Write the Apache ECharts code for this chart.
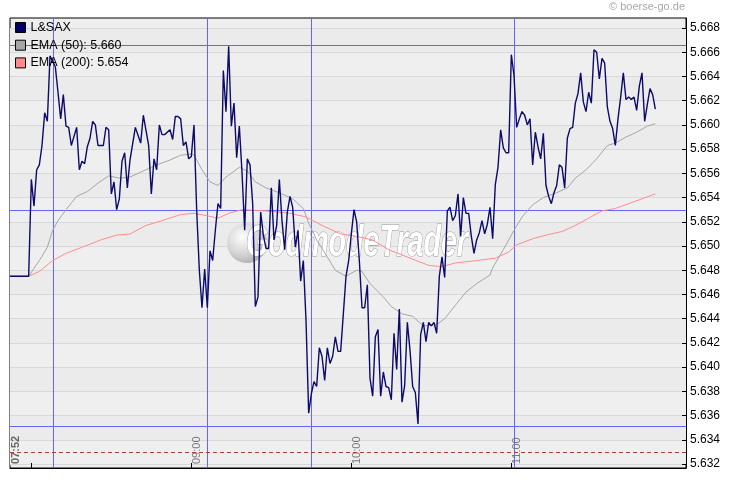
<!DOCTYPE html>
<html>
<head>
<meta charset="utf-8">
<script src="https://cdn.jsdelivr.net/npm/echarts@6/dist/echarts.min.js"></script>
<style>
  html, body { margin:0; padding:0; background:#ffffff; }
  #chart { width:730px; height:481px; }
</style>
</head>
<body>
<div id="chart"></div>
<script>
// ---- data ----
const priceTimes = ["07:52","07:59","08:00","08:01","08:02","08:03","08:04","08:05","08:06","08:07","08:09","08:10","08:11","08:12","08:13","08:14","08:15","08:17","08:18","08:19","08:20","08:21","08:22","08:23","08:24","08:25","08:27","08:28","08:29","08:30","08:31","08:32","08:33","08:34","08:35","08:36","08:37","08:39","08:41","08:42","08:44","08:45","08:46","08:47","08:48","08:49","08:50","08:52","08:53","08:54","08:55","08:56","08:57","08:58","08:59","09:00","09:01","09:02","09:03","09:04","09:05","09:06","09:07","09:08","09:09","09:10","09:11","09:12","09:13","09:14","09:15","09:16","09:17","09:18","09:19","09:20","09:21","09:22","09:23","09:24","09:25","09:26","09:27","09:28","09:29","09:30","09:31","09:32","09:33","09:34","09:35","09:36","09:37","09:38","09:39","09:40","09:41","09:42","09:43","09:44","09:45","09:46","09:47","09:48","09:49","09:50","09:51","09:52","09:53","09:54","09:55","09:56","09:57","09:58","09:59","10:00","10:01","10:02","10:03","10:04","10:05","10:06","10:07","10:08","10:09","10:10","10:11","10:12","10:13","10:14","10:15","10:16","10:17","10:18","10:19","10:20","10:21","10:22","10:23","10:24","10:25","10:26","10:27","10:28","10:29","10:30","10:31","10:32","10:33","10:34","10:35","10:36","10:37","10:38","10:39","10:40","10:41","10:42","10:43","10:44","10:45","10:46","10:47","10:48","10:49","10:50","10:51","10:52","10:53","10:54","10:55","10:56","10:57","10:58","10:59","11:00","11:01","11:02","11:03","11:04","11:05","11:06","11:07","11:08","11:09","11:10","11:11","11:12","11:13","11:14","11:15","11:16","11:17","11:18","11:19","11:20","11:21","11:22","11:23","11:24","11:25","11:26","11:27","11:28","11:29","11:30","11:31","11:32","11:33","11:34","11:35","11:36","11:37","11:38","11:39","11:40","11:41","11:42","11:43","11:44","11:45","11:46","11:47","11:48","11:49","11:50","11:51","11:52","11:53","11:54"];
const priceValues = [5.6475,5.6475,5.6555,5.6533,5.6563,5.6567,5.6583,5.6610,5.6603,5.6657,5.6648,5.6627,5.6605,5.6625,5.6599,5.6598,5.6583,5.6598,5.6563,5.6570,5.6568,5.6582,5.6589,5.6603,5.6600,5.6583,5.6583,5.6598,5.6596,5.6543,5.6553,5.6530,5.6539,5.6570,5.6577,5.6548,5.6571,5.6598,5.6585,5.6608,5.6583,5.6543,5.6572,5.6563,5.6600,5.6592,5.6592,5.6596,5.6588,5.6607,5.6607,5.6605,5.6583,5.6586,5.6572,5.6574,5.6600,5.6530,5.6480,5.6449,5.6481,5.6449,5.6496,5.6488,5.6513,5.6535,5.6531,5.6645,5.6611,5.6665,5.6599,5.6618,5.6573,5.6599,5.6561,5.6513,5.6572,5.6567,5.6535,5.6450,5.6458,5.6528,5.6509,5.6498,5.6498,5.6548,5.6505,5.6517,5.6555,5.6521,5.6497,5.6528,5.6541,5.6532,5.6499,5.6513,5.6471,5.6488,5.6439,5.6362,5.6378,5.6388,5.6384,5.6416,5.6409,5.6389,5.6416,5.6403,5.6409,5.6425,5.6413,5.6413,5.6444,5.6475,5.6488,5.6510,5.6530,5.6520,5.6488,5.6449,5.6449,5.6468,5.6391,5.6376,5.6425,5.6431,5.6376,5.6396,5.6384,5.6383,5.6373,5.6428,5.6398,5.6448,5.6371,5.6385,5.6437,5.6414,5.6384,5.6379,5.6353,5.6427,5.6437,5.6421,5.6437,5.6434,5.6437,5.6428,5.6475,5.6491,5.6474,5.6529,5.6532,5.6521,5.6525,5.6543,5.6508,5.6540,5.6527,5.6527,5.6508,5.6494,5.6505,5.6511,5.6521,5.6510,5.6518,5.6532,5.6506,5.6551,5.6565,5.6596,5.6581,5.6577,5.6577,5.6658,5.6641,5.6598,5.6605,5.6611,5.6608,5.6600,5.6605,5.6567,5.6594,5.6582,5.6572,5.6593,5.6550,5.6541,5.6535,5.6544,5.6550,5.6567,5.6565,5.6548,5.6589,5.6597,5.6598,5.6618,5.6626,5.6643,5.6619,5.6611,5.6627,5.6618,5.6662,5.6660,5.6638,5.6655,5.6651,5.6615,5.6603,5.6597,5.6583,5.6605,5.6623,5.6643,5.6621,5.6623,5.6621,5.6623,5.6612,5.6632,5.6643,5.6603,5.6617,5.6630,5.6625,5.6613];

const ema50Times = ["07:52","07:59","08:03","08:06","08:08","08:10","08:13","08:17","08:21","08:25","08:29","08:33","08:37","08:41","08:47","08:52","08:56","09:00","09:01","09:04","09:07","09:10","09:13","09:18","09:21","09:24","09:28","09:33","09:38","09:42","09:44","09:47","09:51","09:54","09:58","10:02","10:04","10:07","10:12","10:15","10:19","10:23","10:27","10:32","10:35","10:39","10:43","10:47","10:52","10:53","10:57","11:01","11:04","11:08","11:12","11:17","11:21","11:24","11:28","11:32","11:36","11:39","11:43","11:47","11:51","11:54"];
const ema50Values = [5.6475,5.6475,5.6488,5.6499,5.6513,5.6521,5.6530,5.6541,5.6545,5.6552,5.6558,5.6556,5.6557,5.6561,5.6567,5.6571,5.6575,5.6576,5.6575,5.6563,5.6553,5.6550,5.6557,5.6565,5.6562,5.6553,5.6548,5.6544,5.6539,5.6531,5.6519,5.6505,5.6491,5.6480,5.6475,5.6480,5.6479,5.6469,5.6458,5.6450,5.6444,5.6442,5.6434,5.6435,5.6440,5.6451,5.6462,5.6469,5.6476,5.6482,5.6497,5.6513,5.6524,5.6534,5.6540,5.6544,5.6548,5.6556,5.6563,5.6572,5.6583,5.6585,5.6590,5.6594,5.6599,5.6601];

const ema200Times = ["07:52","07:59","08:03","08:08","08:13","08:19","08:26","08:32","08:37","08:43","08:49","08:56","09:01","09:06","09:10","09:14","09:19","09:28","09:37","09:43","09:49","09:56","10:02","10:08","10:14","10:22","10:29","10:34","10:39","10:47","10:54","10:59","11:02","11:08","11:13","11:19","11:24","11:29","11:34","11:39","11:44","11:49","11:54"];
const ema200Values = [5.6475,5.6475,5.6479,5.6488,5.6494,5.6499,5.6505,5.6509,5.6510,5.6517,5.6521,5.6526,5.6527,5.6525,5.6523,5.6527,5.6530,5.6529,5.6527,5.6524,5.6517,5.6510,5.6508,5.6505,5.6497,5.6490,5.6484,5.6483,5.6486,5.6488,5.6490,5.6495,5.6501,5.6506,5.6509,5.6512,5.6517,5.6523,5.6529,5.6531,5.6535,5.6539,5.6543];

const seriesNames = ["L&SAX", "EMA (50): 5.660", "EMA (200): 5.654"];
const yTickLabels = ["5.632","5.634","5.636","5.638","5.640","5.642","5.644","5.646","5.648","5.650","5.652","5.654","5.656","5.658","5.660","5.662","5.664","5.666","5.668"];
const xTickTimes = ["08:00","09:00","10:00","11:00"];
const xLabelTimes = ["07:52","09:00","10:00","11:00"];
const markTimes = ["08:08","09:06","09:45","11:01"];
const markLevels = [5.6666, 5.6530, 5.6351];
const prevClose = 5.633;
const xStart = "07:52", xEnd = "12:05:30";
const yMin = 5.63167, yMax = 5.66883;

// ---- helpers ----
function toMin(s) { const p = s.split(":").map(Number); return p[0]*60 + p[1] + (p[2]||0)/60; }
function fmt(m) { const h = Math.floor(m/60), mm = Math.round(m - h*60); return String(h).padStart(2,"0") + ":" + String(mm).padStart(2,"0"); }
function pairs(t, v) { return t.map((s, i) => [toMin(s), v[i]]); }

const FONT = "Liberation Sans, Arial, sans-serif";
const chart = echarts.init(document.getElementById("chart"), null, {renderer: "canvas"});

// reference lines drawn through the axes' scales (custom series)
function vLines(name, times, stroke, dash) {
  return {
    name: name, type: "custom", silent: true, z: 2, clip: true,
    data: times.map(t => [toMin(t), yMin]),
    renderItem: (params, api) => {
      const cs = params.coordSys;
      const x = Math.round(api.coord([api.value(0), api.value(1)])[0]) + 0.5;
      return {type: "line", shape: {x1: x, y1: cs.y, x2: x, y2: cs.y + cs.height},
              style: {stroke: stroke, lineWidth: 1, lineDash: dash || null}};
    }
  };
}
function hLines(name, levels, stroke, dash) {
  return {
    name: name, type: "custom", silent: true, z: 2, clip: true,
    data: levels.map(v => [toMin(xStart), v]),
    renderItem: (params, api) => {
      const cs = params.coordSys;
      const y = Math.round(api.coord([api.value(0), api.value(1)])[1]) + 0.5;
      return {type: "line", shape: {x1: cs.x, y1: y, x2: cs.x + cs.width, y2: y},
              style: {stroke: stroke, lineWidth: 1, lineDash: dash || null}};
    }
  };
}

const option = {
  animation: false,
  backgroundColor: "#ffffff",
  title: {
    text: "© boerse-go.de", right: 45, top: 1, padding: 0,
    textStyle: {fontSize: 11, color: "#a8a8a8", fontWeight: "normal", fontFamily: FONT}
  },
  legend: {
    orient: "vertical", left: 15, top: 21, padding: 0, itemGap: 4.7,
    itemWidth: 10, itemHeight: 10, icon: "rect",
    itemStyle: {borderColor: "#000", borderWidth: 1},
    textStyle: {fontSize: 12.5, color: "#000", fontFamily: FONT, lineHeight: 12},
    data: seriesNames
  },
  grid: {
    left: 10, right: 44, top: 18, bottom: 13,
    show: true, borderColor: "#000", borderWidth: 1, backgroundColor: "#eeeeee"
  },
  xAxis: {
    type: "value", min: toMin(xStart), max: toMin(xEnd),
    axisLine: {show: true, lineStyle: {color: "#000"}},
    splitLine: {show: false},
    axisTick: {show: true, inside: true, length: 5, customValues: xTickTimes.map(toMin), lineStyle: {color: "#000"}},
    axisLabel: {
      inside: true, rotate: 90, verticalAlign: "top", margin: 4,
      customValues: xLabelTimes.map(toMin),
      formatter: v => (Math.abs(v - toMin(xStart)) < 0.01 ? "{b|" + fmt(v) + "}" : fmt(v)),
      fontSize: 11, color: "#7a7a7a", fontFamily: FONT,
      rich: {b: {fontSize: 11, fontWeight: "bold", color: "#666", fontFamily: FONT}}
    }
  },
  yAxis: {
    type: "value", position: "right", min: yMin, max: yMax, scale: true,
    axisLine: {show: true, lineStyle: {color: "#000"}},
    axisTick: {show: true, inside: true, length: 4, customValues: yTickLabels.map(Number), lineStyle: {color: "#000"}},
    axisLabel: {customValues: yTickLabels.map(Number), formatter: v => v.toFixed(3), color: "#000", fontSize: 12, margin: 4, fontFamily: FONT},
    splitLine: {show: true, lineStyle: {color: "#d9d9d9", width: 1}},
    splitArea: {show: true, areaStyle: {color: ["#efefef", "#ebebeb"]}}
  },
  graphic: [
    {
      type: "circle", z: 1, silent: true,
      shape: {cx: 247, cy: 243, r: 20},
      style: {
        fill: {type: "radial", x: 0.38, y: 0.35, r: 0.75,
          colorStops: [{offset: 0, color: "#ffffff"}, {offset: 0.55, color: "#d4d4d4"}, {offset: 1, color: "#a0a0a0"}]},
        opacity: 0.9
      }
    },
    {
      type: "text", z: 1, silent: true, x: 246, y: 244, scaleX: 0.65,
      style: {
        text: "GodmodeTrader",
        font: "italic bold 44px 'Liberation Sans', Arial, sans-serif",
        fill: "#ffffff", stroke: "#9a9a9a", lineWidth: 1.2,
        verticalAlign: "middle", align: "left",
        shadowColor: "rgba(0,0,0,0.55)", shadowBlur: 2, shadowOffsetX: 3, shadowOffsetY: 3
      }
    }
  ],
  series: [
    vLines("vmarks", markTimes, "#6464ff"),
    hLines("hmarks", markLevels, "#6464ff"),
    hLines("prev", [prevClose], "#b03a3a", [4, 3]),
    {
      name: seriesNames[0], type: "line", showSymbol: false, z: 3,
      data: pairs(priceTimes, priceValues),
      lineStyle: {color: "#0b0b6b", width: 1.4},
      itemStyle: {color: "#000066"}
    },
    {
      name: seriesNames[1], type: "line", showSymbol: false, z: 2,
      data: pairs(ema50Times, ema50Values),
      lineStyle: {color: "#a6a6a6", width: 1},
      itemStyle: {color: "#a6a6a6"}
    },
    {
      name: seriesNames[2], type: "line", showSymbol: false, z: 2,
      data: pairs(ema200Times, ema200Values),
      lineStyle: {color: "#ff8c8c", width: 1},
      itemStyle: {color: "#ff8c8c"}
    }
  ]
};
chart.setOption(option);
</script>
</body>
</html>
